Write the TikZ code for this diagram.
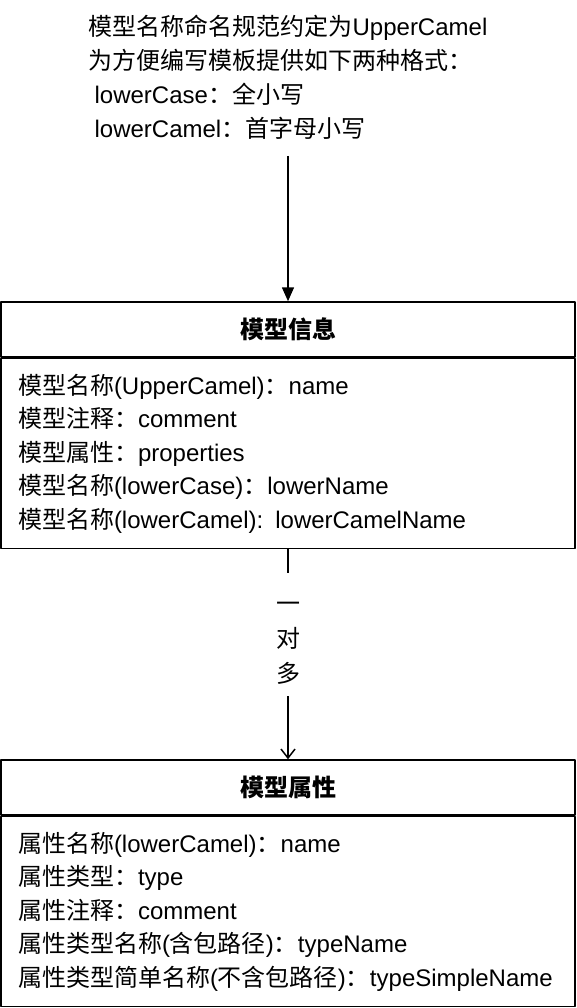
\documentclass[tikz,border=0pt]{standalone}
\usepackage{fontspec}
\setmainfont{Liberation Sans}
\newfontfamily\cjk{Noto Sans CJK SC}
\newcommand\zh[1]{{\cjk #1}}
\usetikzlibrary{arrows.meta,positioning}

\begin{document}
\begin{tikzpicture}[x=1pt, y=-1pt, line join=round,
    txt/.style={font=\fontsize{24pt}{34pt}\selectfont},
    head/.style={draw, line width=1.5pt, minimum width=574pt, minimum height=55pt,
        inner sep=0pt, font=\fontsize{24pt}{34pt}\selectfont\bfseries},
    body/.style={draw, line width=1.5pt, minimum height=190pt, text width=540pt,
        inner xsep=17pt, align=left, font=\fontsize{24pt}{33.5pt}\selectfont}]
    \useasboundingbox (0,0) rectangle (576,1008);

    % naming note
    \node[txt, align=left, inner sep=0pt, anchor=north] (note) at (288,15)
        {\zh{模型名称命名规范约定为}UpperCamel\\
         \zh{为方便编写模板提供如下两种格式：}\\
         \hspace{6pt}lowerCase\zh{：全小写}\\
         \hspace{6pt}lowerCamel\zh{：首字母小写}};

    % model
    \node[head] (info) at (288,329.5) {\zh{模型信息}};
    \node[body, anchor=north] (infobody) at (info.south)
        {\zh{模型名称}(UpperCamel)\zh{：}name\\
         \zh{模型注释：}comment\\
         \zh{模型属性：}properties\\
         \zh{模型名称}(lowerCase)\zh{：}lowerName\\
         \zh{模型名称}(lowerCamel): lowerCamelName};

    % property
    \node[head] (prop) at (288,787.5) {\zh{模型属性}};
    \node[body, anchor=north] (propbody) at (prop.south)
        {\zh{属性名称}(lowerCamel)\zh{：}name\\
         \zh{属性类型：}type\\
         \zh{属性注释：}comment\\
         \zh{属性类型名称}(\zh{含包路径})\zh{：}typeName\\
         \zh{属性类型简单名称}(\zh{不含包路径})\zh{：}typeSimpleName};

    \node[txt, align=center, fill=white, inner xsep=4pt, minimum height=123pt,
        font=\fontsize{24pt}{35pt}\selectfont] (rel) at (288,634.5)
        {\rule{0pt}{27pt}\zh{一}\\ \zh{对}\\ \zh{多}};

    \draw[line width=1.5pt, -{Triangle[length=14pt, width=12pt]}, shorten <=16pt]
        (note.south -| info.north) -- (info.north);
    \draw[line width=1.5pt] (infobody.south) -- (rel.north);
    \draw[line width=1.5pt, -{Straight Barb[length=9pt, width=14pt]}]
        (rel.south) -- (prop.north);
\end{tikzpicture}
\end{document}
